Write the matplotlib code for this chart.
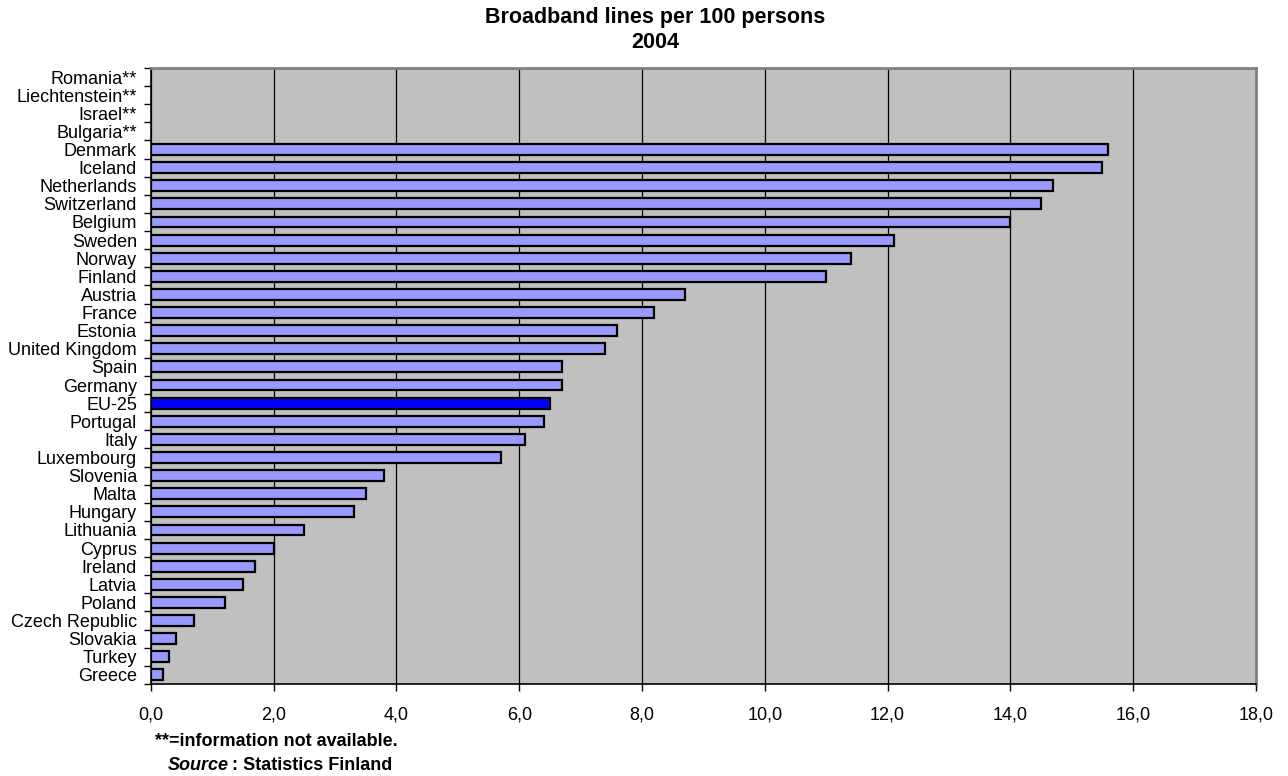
import numpy as np
import matplotlib
matplotlib.use("Agg")
import matplotlib.pyplot as plt
from matplotlib.ticker import FixedLocator, FuncFormatter

plt.rcParams['font.family'] = ['Liberation Sans', 'DejaVu Sans']

# Categories listed from top to bottom; None = information not available
countries = ['Romania**', 'Liechtenstein**', 'Israel**', 'Bulgaria**',
             'Denmark', 'Iceland', 'Netherlands', 'Switzerland', 'Belgium',
             'Sweden', 'Norway', 'Finland', 'Austria', 'France', 'Estonia',
             'United Kingdom', 'Spain', 'Germany', 'EU-25', 'Portugal', 'Italy',
             'Luxembourg', 'Slovenia', 'Malta', 'Hungary', 'Lithuania', 'Cyprus',
             'Ireland', 'Latvia', 'Poland', 'Czech Republic', 'Slovakia',
             'Turkey', 'Greece']
lines_per_100 = [None, None, None, None,
                 15.6, 15.5, 14.7, 14.5, 14.0,
                 12.1, 11.4, 11.0, 8.7, 8.2, 7.6,
                 7.4, 6.7, 6.7, 6.5, 6.4, 6.1,
                 5.7, 3.8, 3.5, 3.3, 2.5, 2.0,
                 1.7, 1.5, 1.2, 0.7, 0.4,
                 0.3, 0.2]
x_ticks = [0, 2, 4, 6, 8, 10, 12, 14, 16, 18]

fig = plt.figure(figsize=(12.88, 7.76), dpi=100)
ax = fig.add_axes([0.1172, 0.1186, 0.8578, 0.7938])
ax.set_facecolor('#C0C0C0')

y = np.arange(len(countries))
for yi, name, val in zip(y, countries, lines_per_100):
    if val is None:
        continue
    color = '#0000FF' if name == 'EU-25' else '#9999FF'
    ax.barh(yi, val, height=0.6, color=color, edgecolor='black',
            linewidth=1.6, zorder=3)

ax.set_xlim(0, 18)
ax.set_ylim(len(countries) - 0.5, -0.5)

# x axis: comma decimals, gridlines at every major tick
ax.set_xticks(x_ticks)
ax.xaxis.set_major_formatter(FuncFormatter(lambda v, p: f'{v:.1f}'.replace('.', ',')))
ax.grid(True, axis='x', color='black', linewidth=0.9, zorder=1)
ax.tick_params(axis='x', direction='out', length=5, width=1, labelsize=13, pad=11)

# y axis: labels centred on rows, tick marks between rows
ax.set_yticks(y)
ax.set_yticklabels(countries)
ax.yaxis.set_minor_locator(FixedLocator(np.arange(-0.5, len(countries), 1.0)))
ax.tick_params(axis='y', which='major', length=0, labelsize=13, pad=10)
ax.tick_params(axis='y', which='minor', direction='out', length=5, width=1)

for side in ['top', 'right']:
    ax.spines[side].set_color('#808080')
    ax.spines[side].set_linewidth(2)
ax.spines['left'].set_color('black')
ax.spines['bottom'].set_color('black')
ax.spines['left'].set_linewidth(1.2)
ax.spines['bottom'].set_linewidth(1.2)
ax.set_axisbelow(True)

fig.text(0.509, 0.978, 'Broadband lines per 100 persons', ha='center', va='center',
         fontsize=15.5, fontweight='bold')
fig.text(0.509, 0.945, '2004', ha='center', va='center',
         fontsize=15.5, fontweight='bold')

fig.text(0.120, 0.044, '**=information not available.', ha='left', va='center',
         fontsize=13, fontweight='bold')
fig.text(0.130, 0.014, 'Source', ha='left', va='center',
         fontsize=13, fontweight='bold', style='italic')
fig.text(0.180, 0.014, ': Statistics Finland', ha='left', va='center',
         fontsize=13, fontweight='bold')

fig.savefig('out.png', dpi=100)
